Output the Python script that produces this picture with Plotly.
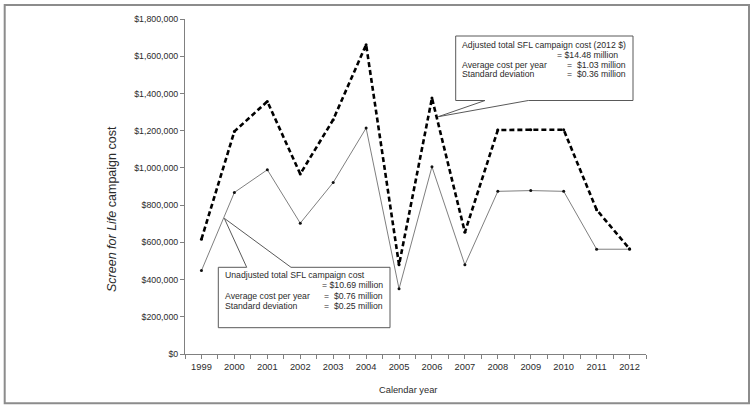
import plotly.graph_objects as go

years = [1999, 2000, 2001, 2002, 2003, 2004, 2005, 2006, 2007, 2008, 2009, 2010, 2011, 2012]
year_labels = [str(y) for y in years]
adjusted_cost = [617000, 1196000, 1357000, 967000, 1259000, 1662000, 479000,
                 1375000, 654000, 1203000, 1205000, 1205000, 775000, 565000]
unadjusted_cost = [448000, 868000, 990000, 703000, 921000, 1214000, 350000,
                   1006000, 479000, 874000, 878000, 874000, 563000, 563000]
y_ticks = [0, 200000, 400000, 600000, 800000, 1000000, 1200000, 1400000, 1600000, 1800000]
y_tick_labels = ["$" + f"{v:,}" for v in y_ticks]

W, H = 754, 409
ML, MR, MT, MB = 185, 108, 19, 55
PW, PH = W - ML - MR, H - MT - MB
X0, X1 = years[0] - 0.5, years[-1] + 0.5
Y0, Y1 = 0, 1800000

def px(xp):
    return (xp - ML) / PW

def py(yp):
    return (H - MB - yp) / PH

def xd(xp):
    return X0 + (xp - ML) / PW * (X1 - X0)

def yd(yp):
    return (H - MB - yp) / PH * (Y1 - Y0)

FONT = "Liberation Sans, Arial, sans-serif"
TXT = "#2b2b2b"

fig = go.Figure()
fig.add_trace(go.Scatter(
    x=years, y=unadjusted_cost, mode="lines+markers",
    line=dict(color="#7f7f7f", width=1),
    marker=dict(color="#111", size=3),
    showlegend=False, hoverinfo="skip"))
fig.add_trace(go.Scatter(
    x=years, y=adjusted_cost, mode="lines+markers",
    line=dict(color="#000", width=2.6, dash="5px,3px"),
    marker=dict(color="#000", size=3),
    showlegend=False, hoverinfo="skip"))

def path_shape(points):
    d = "M " + " L ".join(f"{xd(a)},{yd(b)}" for a, b in points) + " Z"
    return dict(type="path", path=d, xref="x", yref="y", fillcolor="white",
                line=dict(color="#595959", width=1), layer="above")

# top callout: wedge from bottom edge
l, t, r, b = 455.7, 36, 633, 100.5
top_callout = path_shape([(l, t), (l, b), (485, b), (438.3, 116.7), (528.3, b), (r, b), (r, t)])
# bottom callout: wedge from top edge
l, t, r, b = 218.3, 267.3, 390, 327.7
bot_callout = path_shape([(l, t), (246.7, t), (224.3, 218.3), (291, t), (r, t), (r, b), (l, b)])

shapes = [
    top_callout, bot_callout,
    dict(type="rect", xref="paper", yref="paper",
         x0=px(4.7), x1=px(749), y0=py(403.3), y1=py(5),
         line=dict(color="#8c8c8c", width=2), fillcolor="rgba(0,0,0,0)", layer="below"),
]

annots = []
def txt(x, y, s, size=8.7, anchor="left"):
    annots.append(dict(x=px(x), y=py(y), xref="paper", yref="paper", text=s,
                       showarrow=False, xanchor=anchor, yanchor="middle",
                       font=dict(family=FONT, size=size, color=TXT)))

txt(460, 45, "Adjusted total SFL campaign cost (2012 $)")
txt(555, 55, "= $14.48 million")
txt(460, 64.5, "Average cost per year")
txt(565, 64.5, "=  $1.03 million")
txt(460, 74, "Standard deviation")
txt(565, 74, "=  $0.36 million")

txt(223.3, 275, "Unadjusted total SFL campaign cost")
txt(320, 285, "= $10.69 million")
txt(223.3, 295.7, "Average cost per year")
txt(322.3, 295.7, "=  $0.76 million")
txt(223.3, 305.7, "Standard deviation")
txt(322.3, 305.7, "=  $0.25 million")

annots.append(dict(x=px(408), y=py(390), xref="paper", yref="paper",
                   text="Calendar year", showarrow=False, xanchor="center", yanchor="middle",
                   font=dict(family=FONT, size=9.3, color=TXT)))
annots.append(dict(x=px(112), y=py(209), xref="paper", yref="paper",
                   text="<i>Screen for Life</i> campaign cost", showarrow=False, textangle=-90,
                   xanchor="center", yanchor="middle",
                   font=dict(family=FONT, size=12.5, color=TXT)))

fig.update_layout(
    width=W, height=H, margin=dict(l=ML, r=MR, t=MT, b=MB, pad=0),
    paper_bgcolor="white", plot_bgcolor="white",
    shapes=shapes, annotations=annots,
    font=dict(family=FONT, color=TXT),
)
fig.update_xaxes(
    range=[X0, X1], tickmode="array", tickvals=years, ticktext=year_labels,
    ticks="outside", ticklen=4, tickcolor="#808080", showline=True, linecolor="#808080",
    linewidth=1, showgrid=False, zeroline=False, tickfont=dict(size=9.3, color=TXT),
    minor=dict(tickmode="array", tickvals=[y + 0.5 for y in [years[0] - 1] + years],
               ticks="outside", ticklen=4, tickcolor="#808080", showgrid=False),
)
fig.update_yaxes(
    range=[Y0, Y1], tickmode="array", tickvals=y_ticks, ticktext=y_tick_labels,
    ticks="outside", ticklen=4, tickcolor="#808080", showline=True, linecolor="#808080",
    linewidth=1, showgrid=False, zeroline=False, tickfont=dict(size=8.8, color=TXT),
)

fig.write_html("out.html", config={"displayModeBar": False},
               post_script="document.body.style.margin='0px';document.body.style.overflow='hidden';")
